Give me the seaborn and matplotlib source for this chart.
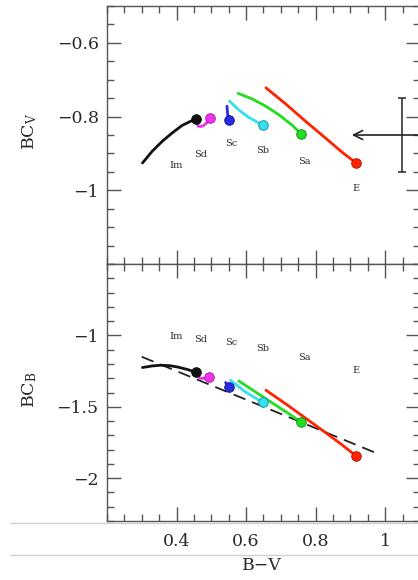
import numpy as np
import pandas as pd
import matplotlib
matplotlib.use("Agg")
import matplotlib.pyplot as plt
import seaborn as sns
from matplotlib.ticker import FixedLocator, MultipleLocator, FuncFormatter
from matplotlib.lines import Line2D

# ---------------- data ----------------
types = ["Im", "Sd", "Sc", "Sb", "Sa", "E"]
colors = ["#111111", "#ee33ee", "#2a2ae0", "#33e0ee", "#22dd22", "#ff2200"]
edges = ["#000000", "#aa11aa", "#111188", "#118899", "#118811", "#aa1100"]

# top panel: B-V vs BC_V tracks (last point = present-day dot)
im_bv_v = [0.302, 0.330, 0.359, 0.388, 0.416, 0.440, 0.457]
im_bcv = [-0.926, -0.894, -0.867, -0.844, -0.824, -0.813, -0.806]
sd_bv_v = [0.459, 0.462, 0.470, 0.478, 0.488, 0.495]
sd_bcv = [-0.813, -0.826, -0.827, -0.824, -0.816, -0.804]
sc_bv_v = [0.545, 0.547, 0.552]
sc_bcv = [-0.772, -0.795, -0.808]
sb_bv_v = [0.552, 0.579, 0.607, 0.632, 0.648]
sb_bcv = [-0.758, -0.782, -0.802, -0.815, -0.822]
sa_bv_v = [0.577, 0.617, 0.655, 0.694, 0.732, 0.759]
sa_bcv = [-0.737, -0.752, -0.771, -0.795, -0.823, -0.848]
e_bv_v = [0.657, 0.713, 0.770, 0.828, 0.875, 0.915]
e_bcv = [-0.722, -0.765, -0.812, -0.858, -0.896, -0.925]

# bottom panel: B-V vs BC_B tracks
im_bv_b = [0.302, 0.330, 0.354, 0.380, 0.402, 0.430, 0.456]
im_bcb = [-1.225, -1.214, -1.209, -1.212, -1.221, -1.238, -1.258]
sd_bv_b = [0.458, 0.462, 0.468, 0.480, 0.492]
sd_bcb = [-1.262, -1.285, -1.300, -1.302, -1.294]
sc_bv_b = [0.541, 0.552]
sc_bcb = [-1.330, -1.360]
sb_bv_b = [0.555, 0.598, 0.625, 0.648]
sb_bcb = [-1.314, -1.396, -1.436, -1.470]
sa_bv_b = [0.579, 0.636, 0.694, 0.730, 0.759]
sa_bcb = [-1.319, -1.411, -1.503, -1.560, -1.609]
e_bv_b = [0.657, 0.713, 0.770, 0.828, 0.875, 0.916]
e_bcb = [-1.384, -1.478, -1.578, -1.680, -1.765, -1.844]

# dashed reference relation in bottom panel
dash_bv = [0.300, 0.985]
dash_bcb = [-1.150, -1.835]

# label positions
lab_top_bv = [0.399, 0.469, 0.557, 0.648, 0.767, 0.916]
lab_top_bc = [-0.933, -0.903, -0.873, -0.892, -0.923, -0.994]
lab_bot_bv = [0.399, 0.469, 0.558, 0.648, 0.767, 0.916]
lab_bot_bc = [-1.007, -1.027, -1.052, -1.093, -1.153, -1.246]

# typical error bar and shift arrow (top panel)
err_bv, err_bc, err_size = 1.048, -0.85, 0.10
arrow_from, arrow_to = 1.15, 0.896

xticks = [0.4, 0.6, 0.8, 1.0]
top_yticks = [-0.6, -0.8, -1.0]
bot_yticks = [-1.0, -1.5, -2.0]

# ---------------- style ----------------
sns.set_theme(style="ticks")
plt.rcParams["font.family"] = ["DejaVu Serif"]
plt.rcParams["mathtext.fontset"] = "dejavuserif"
txtcol = "#2a2a2a"
spcol = "#555555"

W, H = 418, 580
fig = plt.figure(figsize=(W / 100, H / 100), dpi=100)
fig.patch.set_facecolor("white")

left = 107 / W
width = 313 / W
ax_top = fig.add_axes([left, 1 - 264 / H, width, (264 - 6) / H])
ax_bot = fig.add_axes([left, 1 - 521 / H, width, (521 - 264) / H])

top_tracks = [(im_bv_v, im_bcv), (sd_bv_v, sd_bcv), (sc_bv_v, sc_bcv),
              (sb_bv_v, sb_bcv), (sa_bv_v, sa_bcv), (e_bv_v, e_bcv)]
bot_tracks = [(im_bv_b, im_bcb), (sd_bv_b, sd_bcb), (sc_bv_b, sc_bcb),
              (sb_bv_b, sb_bcb), (sa_bv_b, sa_bcb), (e_bv_b, e_bcb)]

def fmt(v, pos):
    s = "%g" % round(v, 3)
    return s.replace("-", "\u2212")

for ax, tracks, lx, ly in [(ax_top, top_tracks, lab_top_bv, lab_top_bc),
                           (ax_bot, bot_tracks, lab_bot_bv, lab_bot_bc)]:
    ax.set_facecolor("white")
    for (bx, by), c, ec, t in zip(tracks, colors, edges, types):
        df = pd.DataFrame({"bv": bx, "bc": by})
        sns.lineplot(data=df, x="bv", y="bc", sort=False, color=c, lw=2.0,
                     ax=ax, estimator=None)
        ax.lines[-1].set_solid_joinstyle("round")
        sns.scatterplot(x=[bx[-1]], y=[by[-1]], color=c, s=48,
                        edgecolor=ec, linewidth=0.6, ax=ax, zorder=5)
    for t, x, y in zip(types, lx, ly):
        ax.text(x, y, t, fontsize=7, ha="center", va="center", color=txtcol)
    ax.set_xlim(0.2, 1.1)
    ax.set_xlabel("")
    ax.set_ylabel("")
    for sp in ax.spines.values():
        sp.set_visible(True)
        sp.set_color(spcol)
        sp.set_linewidth(1.0)
    ax.xaxis.set_major_locator(FixedLocator(xticks))
    ax.xaxis.set_minor_locator(MultipleLocator(0.05))
    ax.tick_params(which="both", direction="in", top=True, bottom=True,
                   left=True, right=True, color=spcol, width=1.0,
                   labelcolor=txtcol, labelsize=12.5)
    ax.tick_params(which="major", length=10)
    ax.tick_params(which="minor", length=5)
    ax.yaxis.set_major_formatter(FuncFormatter(fmt))
    ax.xaxis.set_major_formatter(FuncFormatter(fmt))

# dashed line in bottom panel
sns.lineplot(x=dash_bv, y=dash_bcb, ax=ax_bot, color="#222222", lw=1.3,
             dashes=False, zorder=1)
ax_bot.lines[-1].set_dashes([7, 4])

ax_top.set_ylim(-1.2, -0.5)
ax_top.yaxis.set_major_locator(FixedLocator(top_yticks))
ax_top.yaxis.set_minor_locator(MultipleLocator(0.05))
ax_top.tick_params(axis="x", labelbottom=False)
ax_top.tick_params(axis="y", pad=6)

ax_bot.set_ylim(-2.3, -0.5)
ax_bot.yaxis.set_major_locator(FixedLocator(bot_yticks))
ax_bot.yaxis.set_minor_locator(MultipleLocator(0.1))
ax_bot.tick_params(axis="y", pad=6)
ax_bot.tick_params(axis="x", pad=9)

# error bar and arrow
ax_top.errorbar([err_bv], [err_bc], yerr=[err_size], color="#333333",
                lw=1.2, capsize=3, capthick=1.2, clip_on=False)
ax_top.annotate("", xy=(arrow_to, err_bc), xytext=(arrow_from, err_bc),
                arrowprops=dict(arrowstyle="->", lw=1.2, color="#222222",
                                mutation_scale=16),
                annotation_clip=False)

# axis labels
fig.text(30 / W, 1 - 131 / H, r"BC$_{\rm V}$", rotation=90, ha="center",
         va="center", fontsize=12.5, color=txtcol)
fig.text(30 / W, 1 - 390 / H, r"BC$_{\rm B}$", rotation=90, ha="center",
         va="center", fontsize=12.5, color=txtcol)
fig.text(262 / W, 1 - 565 / H, "B\u2212V", ha="center", va="center",
         fontsize=12.5, color=txtcol)

# light separator lines (screenshot frame)
for yy in [523, 555]:
    fig.add_artist(Line2D([10 / W, 1.0], [1 - yy / H, 1 - yy / H],
                          color="#d0d0d0", lw=1.0))

fig.savefig("out.png", dpi=100, facecolor="white")
